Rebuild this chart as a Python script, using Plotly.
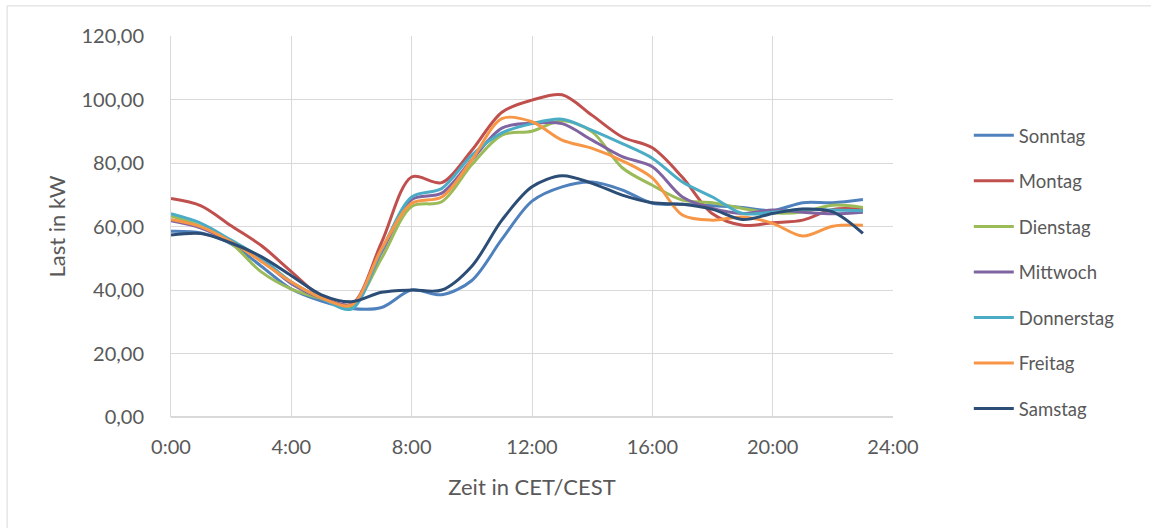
import plotly.graph_objects as go

# Hourly load profile per weekday (kW), 0:00 .. 23:00
hours = list(range(24))
tick_vals = [0, 4, 8, 12, 16, 20, 24]
tick_text = ["0:00", "4:00", "8:00", "12:00", "16:00", "20:00", "24:00"]

days = ["Sonntag", "Montag", "Dienstag", "Mittwoch", "Donnerstag", "Freitag", "Samstag"]

sonntag = [58.5, 58.0, 54.5, 47.5, 40.3, 36.5, 34.2, 34.5, 40.0, 38.5, 43.0, 56.0,
           68.0, 72.5, 74.0, 71.5, 67.3, 67.0, 66.5, 66.0, 65.0, 67.5, 67.5, 68.5]
montag = [68.8, 66.5, 60.2, 54.0, 45.8, 37.9, 35.5, 55.0, 75.6, 73.8, 84.0, 96.0,
          99.8, 101.5, 95.0, 88.2, 84.8, 75.5, 64.0, 60.4, 61.2, 62.0, 65.4, 65.4]
dienstag = [63.3, 60.0, 54.7, 45.7, 40.3, 37.3, 35.0, 50.0, 66.3, 67.8, 79.5, 88.8,
            90.0, 93.3, 89.8, 78.5, 73.0, 68.3, 67.5, 65.7, 64.3, 64.6, 66.7, 66.0]
mittwoch = [61.8, 59.5, 55.0, 49.5, 42.0, 37.5, 35.5, 52.0, 68.5, 70.5, 81.0, 91.0,
            92.5, 92.4, 87.2, 82.0, 78.8, 69.3, 65.7, 64.1, 65.2, 64.5, 64.0, 64.5]
donnerstag = [64.0, 61.0, 55.7, 50.0, 42.5, 37.5, 34.0, 52.5, 69.3, 72.0, 82.5, 89.5,
              92.4, 93.8, 90.3, 86.1, 81.5, 74.0, 69.3, 64.1, 64.5, 65.4, 65.2, 65.0]
freitag = [62.2, 59.9, 55.2, 49.0, 42.5, 37.5, 35.3, 53.0, 67.3, 69.3, 81.0, 94.0,
           93.0, 87.2, 84.6, 80.7, 75.3, 63.6, 62.0, 63.0, 61.0, 57.0, 60.1, 60.4]
samstag = [57.3, 57.8, 54.8, 50.5, 44.5, 38.5, 36.3, 39.3, 40.0, 40.0, 47.5, 62.0,
           72.5, 76.0, 73.6, 69.9, 67.5, 67.0, 65.4, 62.2, 64.1, 65.5, 64.6, 57.8]

series = [sonntag, montag, dienstag, mittwoch, donnerstag, freitag, samstag]
colors = ["#4F81BD", "#C0504D", "#9BBB59", "#8064A2", "#4BACC6", "#F79646", "#2C4D75"]

text_color = "#595959"
grid_color = "#D9D9D9"
font_family = "Lato, 'Open Sans', sans-serif"

fig = go.Figure()
for name, values, color in zip(days, series, colors):
    fig.add_trace(go.Scatter(
        x=hours, y=values, name=name, mode="lines",
        line=dict(color=color, width=3, shape="spline", smoothing=0.9),
        legendgroup=name,
    ))

fig.update_layout(
    width=1151, height=528,
    margin=dict(l=171, r=258, t=36, b=111),
    paper_bgcolor="white", plot_bgcolor="white",
    separators=",.",
    font=dict(family=font_family, color=text_color, size=20),
    legend=dict(
        x=1.105, xanchor="left", y=0.788, yanchor="top",
        font=dict(size=18.5, color=text_color),
        tracegroupgap=18.5, itemwidth=40,
        bgcolor="rgba(0,0,0,0)",
    ),
    xaxis=dict(
        range=[0, 24], tickvals=tick_vals, ticktext=tick_text,
        showgrid=True, gridcolor=grid_color, gridwidth=1,
        showline=False, zeroline=False, ticks="", ticklabelstandoff=16,
        tickfont=dict(size=20, color=text_color),
        title=dict(text="Zeit in CET/CEST", font=dict(size=22, color=text_color), standoff=22),
    ),
    yaxis=dict(
        range=[0, 120], dtick=20, tickformat=".2f",
        showgrid=True, gridcolor=grid_color, gridwidth=1,
        showline=True, linecolor=grid_color, zeroline=True, zerolinecolor=grid_color,
        ticks="", ticklabelstandoff=22,
        tickfont=dict(size=20, color=text_color),
        title=dict(text="Last in kW", font=dict(size=22, color=text_color), standoff=9),
    ),
    shapes=[dict(
        type="rect", xref="paper", yref="paper",
        x0=-0.227, x1=1.40, y0=-0.35, y1=1.079,
        line=dict(color=grid_color, width=1), fillcolor="rgba(0,0,0,0)", layer="below",
    )],
)

fig.write_html("out.html")
